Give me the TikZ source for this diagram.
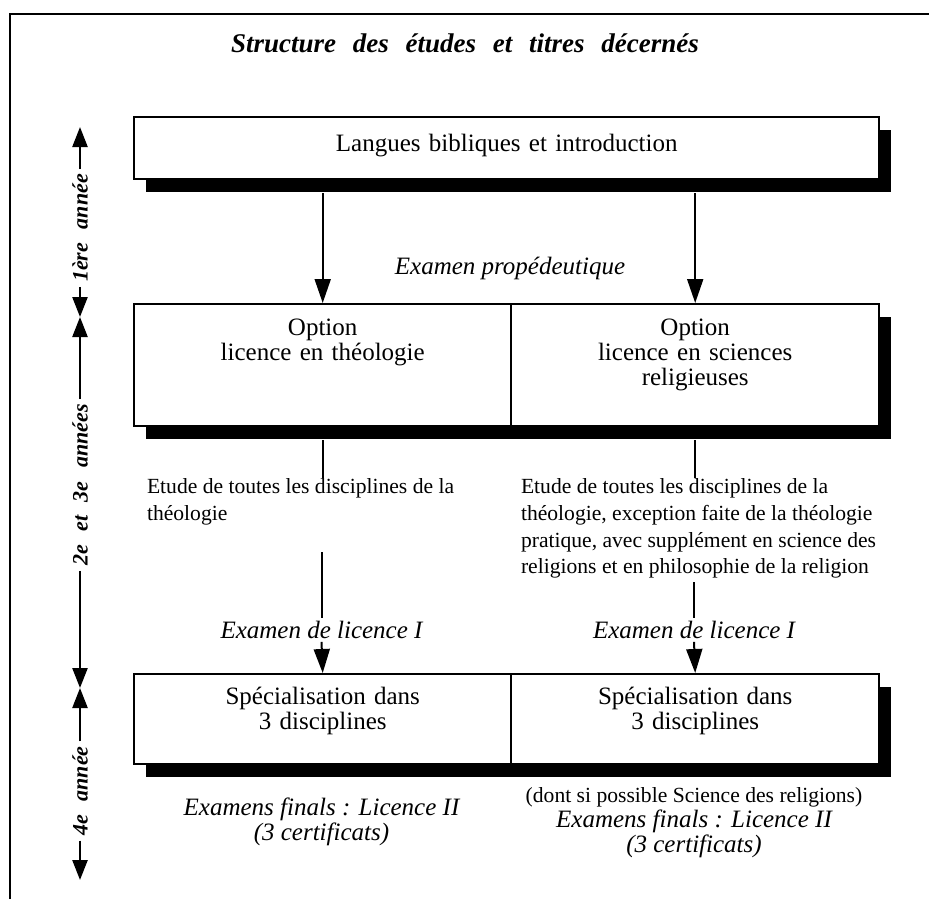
\documentclass[tikz,border=0pt]{standalone}
\usepackage{fontspec}
\setmainfont{Liberation Serif}
\newcommand\wsp{\hspace{0.62em}}
\usetikzlibrary{arrows.meta,shadows,calc}

\begin{document}
\begin{tikzpicture}[x=0.5pt, y=-0.5pt,
                    line width=1pt,
                    >={Triangle[length=12pt,width=8pt]}]
    \tikzstyle{block}=[draw, fill=white, line width=1.2pt, inner sep=0pt, align=center,
                       anchor=north west, font=\fontsize{12.5}{12.5}\selectfont,
                       drop shadow={fill=black, opacity=1, shadow xshift=6pt, shadow yshift=-6.5pt}]
    \tikzstyle{exam}=[inner sep=1pt, align=center, font=\fontsize{12.5}{12.5}\selectfont\itshape]
    \tikzstyle{note}=[inner sep=0pt, align=left, font=\fontsize{10.8}{13.3}\selectfont]
    \tikzstyle{year}=[rotate=90, inner sep=2pt, font=\bfseries\itshape\fontsize{11}{11}\selectfont]
    \tikzstyle{yeartip}=[line width=1.2pt, -{Triangle[length=10pt,width=7.5pt]}]

    \useasboundingbox (0,0) rectangle (929,899);
    % frame
    \draw (10,899) -- (10,14) -- (929,14);

    \node[font=\bfseries\itshape\fontsize{13.5}{14}\selectfont] (title) at (465,43)
        {Structure\wsp des\wsp études\wsp et\wsp titres\wsp décernés};

    % boxes
    \node[block, text width=372.5pt, text height=17pt, text depth=14pt] (bib) at (133,116)
        {Langues bibliques et introduction};
    \node[block, text width=188.5pt, text height=15.5pt, text depth=45.5pt] (opt1) at (133,303)
        {Option\\licence en théologie};
    \node[block, text width=184pt, text height=15.5pt, text depth=45.5pt] (opt2) at (510,303)
        {Option\\licence en sciences\\religieuses};
    \node[block, text width=188.5pt, text height=15pt, text depth=30pt] (spec1) at (133,673)
        {Spécialisation dans\\3 disciplines};
    \node[block, text width=184pt, text height=15pt, text depth=30pt] (spec2) at (510,673)
        {Spécialisation dans\\3 disciplines};

    % texts
    \node[exam] (prop) at (510,268) {Examen propédeutique};
    \node[note, anchor=north west] (etude1) at (146,478)
        {Etude de toutes les disciplines de la\\théologie};
    \node[note, anchor=north west] (etude2) at (520,478)
        {Etude de toutes les disciplines de la\\théologie, exception faite de la théologie\\pratique, avec supplément en science des\\religions et en philosophie de la religion};
    \node[exam] (lic1) at (321.5,630) {Examen de licence I};
    \node[exam] (lic2) at (694,630) {Examen de licence I};
    \node[exam] (fin1) at (321.5,822) {Examens finals : Licence II\\(3 certificats)};
    \node[note] (dont) at (694,797) {(dont si possible Science des religions)};
    \node[exam] (fin2) at (694,834) {Examens finals : Licence II\\(3 certificats)};

    % connectors
    \draw[->] ($(opt1.north |- bib.south)+(0,13)$) -- (opt1.north);
    \draw[->] ($(opt2.north |- bib.south)+(0,13)$) -- (opt2.north);
    \draw ($(opt1.south)+(0,13)$) -- (opt1.south |- etude1.north);
    \draw ($(opt2.south)+(0,13)$) -- (opt2.south |- etude2.north);
    \coordinate (from1) at (321.5,552);
    \coordinate (from2) at (694,582);
    \draw (from1) -- (lic1.north);
    \draw (from2) -- (lic2.north);
    \draw[->] (lic1.south) -- (spec1.north);
    \draw[->] (lic2.south) -- (spec2.north);

    % years
    \node[year] (an1) at (80,228) {1ère\wsp année};
    \node[year] (an2) at (80,485) {2e\wsp et\wsp 3e\wsp années};
    \node[year] (an3) at (80,791) {4e\wsp année};
    \coordinate (t0) at (80,127);
    \coordinate (t1) at (80,317);
    \coordinate (t2) at (80,688);
    \coordinate (t3) at (80,880);
    \draw[yeartip] (an1.east) -- (t0);
    \draw[yeartip] (an1.west) -- (t1);
    \draw[yeartip] (an2.east) -- (t1);
    \draw[yeartip] (an2.west) -- (t2);
    \draw[yeartip] (an3.east) -- (t2);
    \draw[yeartip] (an3.west) -- (t3);
\end{tikzpicture}
\end{document}
